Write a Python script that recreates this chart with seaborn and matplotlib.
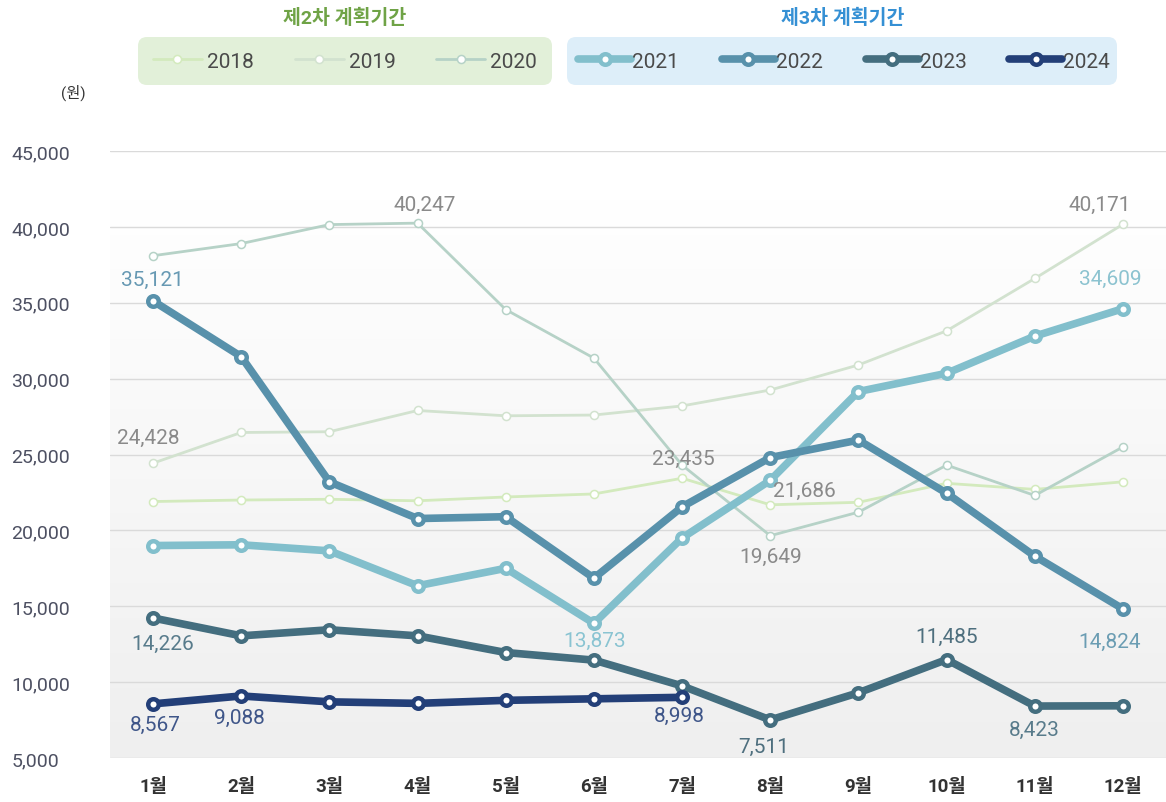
import numpy as np
import pandas as pd
import matplotlib.pyplot as plt
import seaborn as sns
from matplotlib.lines import Line2D
from matplotlib.patches import FancyBboxPatch
from matplotlib.colors import LinearSegmentedColormap
from matplotlib.transforms import IdentityTransform

months = list(range(1, 13))
month_labels = [f"{m}월" for m in months]

v2018 = [21900, 22000, 22050, 21950, 22200, 22400, 23435, 21686, 21850, 23100, 22700, 23200]
v2019 = [24428, 26450, 26500, 27900, 27550, 27600, 28200, 29250, 30900, 33150, 36600, 40171]
v2020 = [38100, 38900, 40150, 40247, 34550, 31350, 24300, 19649, 21200, 24300, 22300, 25500]
v2021 = [19000, 19050, 18650, 16350, 17500, 13873, 19500, 23300, 29150, 30350, 32800, 34609]
v2022 = [35121, 31450, 23200, 20780, 20900, 16850, 21550, 24800, 25950, 22450, 18300, 14824]
v2023 = [14226, 13050, 13450, 13050, 11950, 11450, 9750, 7511, 9300, 11485, 8423, 8440]
v2024 = [8567, 9088, 8700, 8600, 8800, 8900, 8998]

series = {2018: v2018, 2019: v2019, 2020: v2020, 2021: v2021,
          2022: v2022, 2023: v2023, 2024: v2024}

colors = {2018: '#d3eabd', 2019: '#d2e2cf', 2020: '#b6d2c7', 2021: '#82bfcc',
          2022: '#5891ab', 2023: '#446e7f', 2024: '#233f78'}

rows = []
for yr, vals in series.items():
    for m, v in zip(months, vals):
        rows.append({'year': yr, 'month': m, 'value': v})
df = pd.DataFrame(rows)

# labelled points: (year, month, dx px, dy px, colour)
labels = [
    (2019, 1, -5, 26, '#8a8a8a'),
    (2020, 4, 7, 19, '#8a8a8a'),
    (2019, 12, -23, 20, '#8a8a8a'),
    (2018, 7, 1, 20, '#8a8a8a'),
    (2018, 8, 34, 14, '#8a8a8a'),
    (2020, 8, 0, -21, '#8a8a8a'),
    (2022, 1, -1, 22, '#6799b3'),
    (2021, 12, -13, 30, '#8cc3d0'),
    (2021, 6, 1, -17, '#8ac4d2'),
    (2022, 12, -13, -32, '#6b9db3'),
    (2023, 1, 10, -25, '#587b8b'),
    (2023, 8, -7, -26, '#4e6f7e'),
    (2023, 10, 0, 23, '#4e6f7e'),
    (2023, 11, 0, -23, '#587b8b'),
    (2024, 1, 2, -21, '#3f5689'),
    (2024, 2, -2, -21, '#3f5689'),
    (2024, 7, -3, -18, '#3f5689'),
]

sns.set_style('white')
plt.rcParams['font.family'] = ['Roboto', 'Noto Sans CJK KR', 'DejaVu Sans']

W, H = 1166, 803
fig = plt.figure(figsize=(W / 100, H / 100), dpi=100)
ax = fig.add_axes([110 / W, 44 / H, 1056 / W, 607 / H])

# soft vertical gradient behind the plot
grad = np.linspace(0, 1, 256).reshape(-1, 1)
cmap = LinearSegmentedColormap.from_list('bg', ['#efefef', '#ffffff'])
ax.imshow(grad, extent=[0, 1, 0, 0.92], transform=ax.transAxes, origin='lower',
          aspect='auto', cmap=cmap, zorder=0)

for yr in series:
    d = df[df.year == yr]
    c = colors[yr]
    if yr <= 2020:
        sns.lineplot(data=d, x='month', y='value', ax=ax, color=c, lw=2.0,
                     marker='o', ms=5.8, mfc='white', mec=c, mew=1.1,
                     zorder=2, legend=False)
    else:
        sns.lineplot(data=d, x='month', y='value', ax=ax, color=c, lw=5.5,
                     marker='o', ms=7.6, mfc='white', mec=c, mew=3.2,
                     zorder=3 + (yr - 2021), legend=False)

for yr, m, dx, dy, c in labels:
    v = series[yr][m - 1]
    ax.annotate(f"{v:,}", xy=(m, v), xytext=(dx * 0.72, dy * 0.72),
                textcoords='offset points', ha='center', va='center',
                fontsize=15, color=c, zorder=10)

ax.set_xlim(0.512, 12.488)
ax.set_ylim(5000, 45000)
ax.set_yticks(range(5000, 45001, 5000))
ax.set_yticklabels([f"{t:,}" for t in range(5000, 45001, 5000)])
ax.set_xticks(months)
ax.set_xticklabels(month_labels)
ax.grid(axis='y', color='#dadada', lw=1.0)
ax.grid(axis='x', visible=False)
ax.set_axisbelow(True)
for s in ax.spines.values():
    s.set_visible(False)
ax.set_xlabel('')
ax.set_ylabel('')
ax.tick_params(axis='y', length=0, pad=71, labelsize=14, labelcolor='#4d5062')
for t in ax.get_yticklabels():
    t.set_ha('left')
ax.tick_params(axis='x', length=0, pad=14, labelsize=13.5, labelcolor='#333333')
for t in ax.get_xticklabels():
    t.set_fontweight('bold')

fig.text(73 / W, 1 - 93 / H, '(원)', ha='center', va='center', fontsize=11,
         color='#333333')

# legend panels
for x0, x1, fc in [(138, 552, '#e2f0d9'), (567, 1117, '#ddeef9')]:
    fig.patches.append(FancyBboxPatch((x0, H - 86), x1 - x0, 48,
                                      boxstyle='round,pad=0,rounding_size=9',
                                      transform=IdentityTransform(),
                                      fc=fc, ec='none', figure=fig))

fig.text(345 / W, 1 - 18 / H, '제2차 계획기간', ha='center', va='center',
         fontsize=14, color='#6fa346', fontweight='bold')
fig.text(843 / W, 1 - 18 / H, '제3차 계획기간', ha='center', va='center',
         fontsize=14, color='#3590d4', fontweight='bold')

h_old = [Line2D([], [], color=colors[y], lw=2.0, marker='o', ms=5.8, mfc='white',
                mec=colors[y], mew=1.1) for y in (2018, 2019, 2020)]
h_new = [Line2D([], [], color=colors[y], lw=5.5, marker='o', ms=7.6, mfc='white',
                mec=colors[y], mew=3.2) for y in (2021, 2022, 2023, 2024)]

leg1 = fig.legend(h_old, ['2018', '2019', '2020'], ncol=3, loc='center left',
                  bbox_to_anchor=(153 / W, 1 - 62 / H), frameon=False,
                  fontsize=15, handlelength=2.35, handletextpad=0.25,
                  columnspacing=1.95, borderpad=0, borderaxespad=0,
                  labelcolor='#4a4a4a')
leg2 = fig.legend(h_new, ['2021', '2022', '2023', '2024'], ncol=4,
                  loc='center left', bbox_to_anchor=(578 / W, 1 - 62 / H),
                  frameon=False, fontsize=15, handlelength=2.55,
                  handletextpad=0.05, columnspacing=2.05, borderpad=0,
                  borderaxespad=0, labelcolor='#4a4a4a')

fig.savefig('out.png', dpi=100)
